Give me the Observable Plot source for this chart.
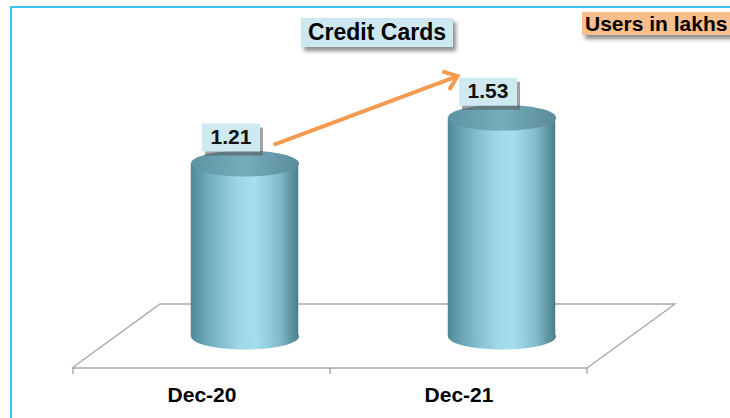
<!DOCTYPE html>
<html>
<head>
<meta charset="utf-8">
<script src="https://cdn.jsdelivr.net/npm/d3@7"></script>
<script src="https://cdn.jsdelivr.net/npm/@observablehq/plot@0.6"></script>
<style>
  html, body { margin: 0; padding: 0; background: #fff; }
  #wrap { position: relative; width: 730px; height: 418px; overflow: hidden; background: #fff;
          font-family: "Liberation Sans", Arial, sans-serif; }
  #chart { position: absolute; left: 0; top: 0; }
  #chart svg { display: block; }
  #frame { position: absolute; left: 10px; top: 6px; right: -20px; bottom: -20px;
           border-top: 2px solid #3cc3f2; border-left: 2px solid #3cc3f2; pointer-events: none; }
  .box { position: absolute; font-weight: bold; color: #000; white-space: nowrap;
         box-shadow: 3px 4px 4px rgba(0,0,0,0.45); }
  #title { left: 301px; top: 18px; width: 152px; height: 29px; line-height: 29px; text-align: center;
           font-size: 23px; background: #cde8f0; }
  #units { left: 582px; top: 12px; width: 160px; height: 23px; line-height: 23px; font-size: 21px;
           background: #fbbf8d; padding-left: 3px; }
</style>
</head>
<body>
<div id="wrap">
  <div id="chart"></div>
  <div id="frame"></div>
  <div class="box" id="title">Credit Cards</div>
  <div class="box" id="units">Users in lakhs</div>
</div>
<script>
// ---- data ----
const categories = ["Dec-20", "Dec-21"];
const values = [1.21, 1.53];
const valueLabels = ["1.21", "1.53"];

const data = categories.map((c, i) => ({period: c, users: values[i], label: valueLabels[i]}));

// ---- custom symbols ----
const ellipseSymbol = (ratio) => ({
  draw(ctx, size) {
    const rx = Math.sqrt(size / Math.PI), ry = rx * ratio, k = 0.5523;
    ctx.moveTo(rx, 0);
    ctx.bezierCurveTo(rx, ry * k, rx * k, ry, 0, ry);
    ctx.bezierCurveTo(-rx * k, ry, -rx, ry * k, -rx, 0);
    ctx.bezierCurveTo(-rx, -ry * k, -rx * k, -ry, 0, -ry);
    ctx.bezierCurveTo(rx * k, -ry, rx, -ry * k, rx, 0);
    ctx.closePath();
  }
});
const rectSymbol = (w, h) => ({
  draw(ctx) { ctx.rect(-w / 2, -h / 2, w, h); }
});

// ---- helper marks ----
function bandCenter(sx, v) {
  const bw = typeof sx.bandwidth === "function" ? sx.bandwidth() : (sx.bandwidth || 0);
  return sx(v) + bw / 2;
}

function defsMark() {
  const g = d3.create("svg:g");
  const defs = g.append("defs");
  const body = defs.append("linearGradient").attr("id", "cylBody")
    .attr("x1", 0).attr("x2", 1).attr("y1", 0).attr("y2", 0);
  [[0, "#4e8898"], [0.15, "#6eaabb"], [0.45, "#9fd7e8"], [0.6, "#a6deee"], [0.82, "#82bccb"], [1, "#4a7d8a"]]
    .forEach(([o, c]) => body.append("stop").attr("offset", o).attr("stop-color", c));
  const top = defs.append("linearGradient").attr("id", "cylTop")
    .attr("x1", 0).attr("x2", 1).attr("y1", 0).attr("y2", 0);
  [[0, "#5d93a2"], [0.5, "#76adbc"], [1, "#5a8c99"]]
    .forEach(([o, c]) => top.append("stop").attr("offset", o).attr("stop-color", c));
  const f = defs.append("filter").attr("id", "soft")
    .attr("x", "-20%").attr("y", "-30%").attr("width", "140%").attr("height", "160%");
  f.append("feGaussianBlur").attr("stdDeviation", 1.6);
  return g.node();
}

function floorMark(index, scales) {
  const sx = scales.x, sy = scales.y;
  const [x0, x1] = sx.range();
  const y0 = sy(0);
  const front = y0 + 32, back = y0 - 32, shift = 88;
  const g = d3.create("svg:g").attr("fill", "none");
  g.append("path")
    .attr("stroke", "#a8a8a8").attr("stroke-width", 1.4)
    .attr("d", `M${x0},${front}L${x0 + shift},${back}L${x1 + shift},${back}L${x1},${front}`);
  g.append("path")
    .attr("stroke", "#bdbdbd").attr("stroke-width", 2.2)
    .attr("d", `M${x0},${front}L${x1},${front}`);
  const edges = categories.map(c => sx(c)).concat([x1]);
  g.append("path")
    .attr("stroke", "#9a9a9a").attr("stroke-width", 1.2)
    .attr("d", edges.map(x => `M${x},${front}L${x},${front + 6}`).join(""));
  return g.node();
}

function arrowMark(index, scales) {
  const sx = scales.x, sy = scales.y;
  const p0 = [bandCenter(sx, categories[0]) + 72, sy(values[0]) - 18];
  const p1 = [bandCenter(sx, categories[1]) - 1, sy(values[1]) - 41];
  const a = Math.atan2(p1[1] - p0[1], p1[0] - p0[0]);
  const L = 16, th = 38 * Math.PI / 180;
  const h1 = [p1[0] - L * Math.cos(a - th), p1[1] - L * Math.sin(a - th)];
  const h2 = [p1[0] - L * Math.cos(a + th), p1[1] - L * Math.sin(a + th)];
  const g = d3.create("svg:g").attr("fill", "none").attr("stroke", "#f59a4e")
    .attr("stroke-width", 4).attr("stroke-linejoin", "miter");
  g.append("path").attr("d", `M${p0[0]},${p0[1]}L${p1[0] - 2 * Math.cos(a)},${p1[1] - 2 * Math.sin(a)}`);
  g.append("path").attr("d", `M${h1[0]},${h1[1]}L${p1[0]},${p1[1]}L${h2[0]},${h2[1]}`);
  return g.node();
}

const font = "'Liberation Sans', Arial, sans-serif";

const plot = Plot.plot({
  width: 730,
  height: 418,
  marginLeft: 72,
  marginRight: 143,
  marginTop: 50,
  marginBottom: 82,
  style: {background: "transparent", fontFamily: font, fontSize: "21px", fontWeight: "bold", color: "#000", overflow: "visible"},
  x: {domain: categories, padding: 0, tickSize: 0, tickPadding: 51, label: null},
  y: {domain: [0, 2], axis: null},
  marks: [
    defsMark,
    floorMark,
    Plot.dot(data, {x: "period", y: 0, symbol: ellipseSymbol(0.24), r: 54, fill: "url(#cylBody)", stroke: "none", dx: 43}),
    Plot.barY(data, {x: "period", y: "users", fill: "url(#cylBody)", insetLeft: 74.75, insetRight: 74.75, dx: 43}),
    Plot.dot(data, {x: "period", y: "users", symbol: ellipseSymbol(0.24), r: 54, fill: "url(#cylTop)", stroke: "none", dx: 43}),
    arrowMark,
    Plot.dot(data, {x: "period", y: "users", symbol: rectSymbol(58, 28), r: 1, fill: "#555", fillOpacity: 0.55, stroke: "none", dx: 32, dy: -22, ariaLabel: "label-shadow"}),
    Plot.dot(data, {x: "period", y: "users", symbol: rectSymbol(58, 28), r: 1, fill: "#cfe9f1", stroke: "none", dx: 29, dy: -26}),
    Plot.text(data, {x: "period", y: "users", text: "label", dx: 29, dy: -26, fontSize: 21, fontWeight: "bold", fill: "#111", fontFamily: font})
  ]
});

const shadow = plot.querySelector('g[aria-label="label-shadow"]');
if (shadow) shadow.setAttribute("filter", "url(#soft)");

document.getElementById("chart").appendChild(plot);
</script>
</body>
</html>
